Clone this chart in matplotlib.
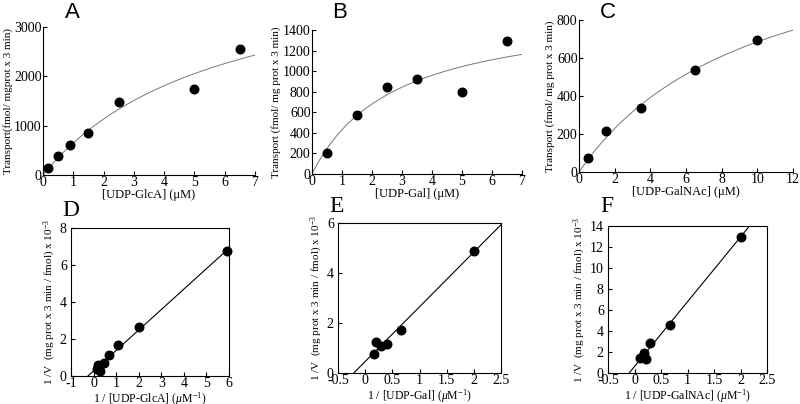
import numpy as np
import matplotlib
matplotlib.use('Agg')
import matplotlib.pyplot as plt

plt.rcParams['font.family'] = ['Liberation Serif', 'DejaVu Serif']
plt.rcParams['mathtext.fontset'] = 'custom'
plt.rcParams['mathtext.rm'] = 'Liberation Serif'
plt.rcParams['mathtext.it'] = 'Liberation Serif:italic'

# Transport data (top row)
glca_conc = [0.17, 0.5, 0.9, 1.5, 2.5, 5.0, 6.5]
glca_rate = [150, 390, 610, 860, 1480, 1740, 2560]
gal_conc = [0.5, 1.5, 2.5, 3.5, 5.0, 6.5]
gal_rate = [200, 575, 845, 925, 795, 1290]
galnac_conc = [0.5, 1.5, 3.5, 6.5, 10.0]
galnac_rate = [72, 215, 335, 535, 695]

# Michaelis-Menten fit parameters (Vmax, Km)
glca_fit = (4480, 5.9)
gal_fit = (1623, 2.77)
galnac_fit = (1365, 9.93)

# Double reciprocal data (bottom row)
glca_inv_s = [5.9, 2.0, 1.1, 0.67, 0.44, 0.2, 0.15, 0.3]
glca_inv_v = [6.75, 2.66, 1.68, 1.16, 0.68, 0.58, 0.4, 0.28]
gal_inv_s = [2.0, 0.667, 0.4, 0.29, 0.2, 0.156]
gal_inv_v = [4.9, 1.73, 1.17, 1.07, 1.25, 0.77]
galnac_inv_s = [2.0, 0.67, 0.3, 0.17, 0.1, 0.22]
galnac_inv_v = [12.95, 4.55, 2.9, 1.88, 1.45, 1.3]

# Regression line endpoints
glca_line = ([-0.25, 5.95], [0.0, 6.85])
gal_line = ([-0.21, 2.5], [0.0, 5.93])
galnac_line = ([-0.1, 2.17], [0.0, 14.0])

W, H = 800, 404
fig = plt.figure(figsize=(8, 4.04), dpi=100)


def px_axes(left, right, top, bottom):
    # axes rectangle given in pixel edges
    return [left / W, 1 - bottom / H, (right - left) / W, (bottom - top) / H]


top_pos = [px_axes(43, 255, 27, 175), px_axes(312, 522, 30, 174), px_axes(579, 793, 20, 172)]
bot_pos = [px_axes(71, 229, 228, 376), px_axes(338, 501, 223, 373), px_axes(608, 767, 226, 373)]

top_data = [(glca_conc, glca_rate, glca_fit, 7, 1, 3000, 1000,
             'Transport(fmol/ mgprot x 3 min)', '[UDP-GlcA] (μM)'),
            (gal_conc, gal_rate, gal_fit, 7, 1, 1400, 200,
             'Transport (fmol/ mg prot x 3 min)', '[UDP-Gal] (μM)'),
            (galnac_conc, galnac_rate, galnac_fit, 12, 2, 800, 200,
             'Transport (fmol/ mg prot x 3 min)', '[UDP-GalNAc] (μM)')]

for pos, (xs, ys, fit, xmax, xstep, ymax, ystep, ylab, xlab) in zip(top_pos, top_data):
    ax = fig.add_axes(pos)
    vmax, km = fit
    xx = np.linspace(0, xmax, 200)
    ax.plot(xx, vmax * xx / (km + xx), color='#777777', lw=0.7)
    ax.scatter(xs, ys, s=38, color='black', zorder=3, clip_on=False)
    ax.set_xlim(0, xmax)
    ax.set_ylim(0, ymax)
    ax.set_xticks(np.arange(0, xmax + 0.1, xstep))
    ax.set_yticks(np.arange(0, ymax + 1, ystep))
    ax.spines['top'].set_visible(False)
    ax.spines['right'].set_visible(False)
    ax.tick_params(direction='in', length=3, labelsize=10, pad=1)
    ax.set_ylabel(ylab, fontsize=8, labelpad=1)
    ax.set_xlabel(xlab, fontsize=9, labelpad=0)

bot_data = [(glca_inv_s, glca_inv_v, glca_line, (-1, 6), 1, (0, 8), 2, 'GlcA'),
            (gal_inv_s, gal_inv_v, gal_line, (-0.5, 2.5), 0.5, (0, 6), 2, 'Gal'),
            (galnac_inv_s, galnac_inv_v, galnac_line, (-0.5, 2.5), 0.5, (0, 14), 2, 'GalNAc')]

for pos, (xs, ys, line, xlim, xstep, ylim, ystep, sugar) in zip(bot_pos, bot_data):
    ax = fig.add_axes(pos)
    ax.plot(line[0], line[1], color='black', lw=0.8)
    ax.scatter(xs, ys, s=38, color='black', zorder=3, clip_on=False)
    ax.set_xlim(*xlim)
    ax.set_ylim(*ylim)
    ax.set_xticks(np.arange(xlim[0], xlim[1] + 0.01, xstep))
    ax.set_yticks(np.arange(ylim[0], ylim[1] + 0.01, ystep))
    ax.xaxis.set_major_formatter(plt.FuncFormatter(lambda v, p: ('%g' % v)))
    ax.tick_params(direction='in', length=3, labelsize=10)
    ax.tick_params(axis='x', pad=1)
    ax.tick_params(axis='y', pad=3)
    ax.set_ylabel('1 /V  (mg prot x 3 min / fmol) x 10$^{-3}$', fontsize=8, labelpad=1)
    ax.set_xlabel('1 / [UDP-' + sugar + '] ($\\mu$M$^{-1}$)', fontsize=8.5, labelpad=0)

# Panel letters
fig.text(72 / W, 1 - 13 / H, 'A', family='Liberation Sans', fontsize=16, ha='center', va='center')
fig.text(340 / W, 1 - 13 / H, 'B', family='Liberation Sans', fontsize=16, ha='center', va='center')
fig.text(608 / W, 1 - 12 / H, 'C', family='Liberation Sans', fontsize=16, ha='center', va='center')
fig.text(71 / W, 1 - 210 / H, 'D', fontsize=17, ha='center', va='center')
fig.text(337 / W, 1 - 207 / H, 'E', fontsize=17, ha='center', va='center')
fig.text(607 / W, 1 - 207 / H, 'F', fontsize=17, ha='center', va='center')

fig.savefig('out.png', dpi=100)
